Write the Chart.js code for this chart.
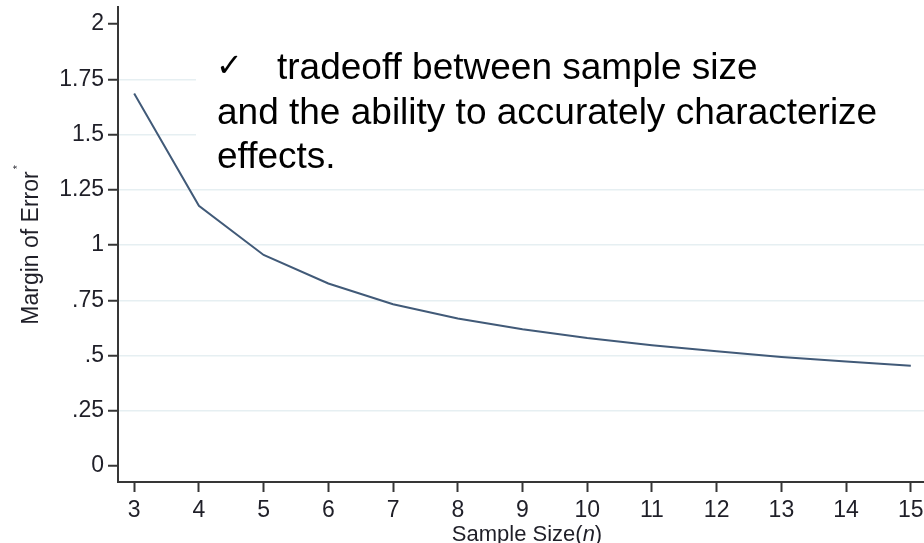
<!DOCTYPE html>
<html>
<head>
<meta charset="utf-8">
<title>Margin of Error by Sample Size</title>
<script src="https://cdn.jsdelivr.net/npm/chart.js@4.4.1/dist/chart.umd.min.js"></script>
<style>
  html, body { margin: 0; padding: 0; background: #fff; overflow: hidden; }
  #wrap { position: relative; width: 960px; height: 543px; }
</style>
</head>
<body>
<div id="wrap"><canvas id="chart"></canvas></div>
<script>
// Sample sizes and the corresponding margin of error
const sampleSizes = [3, 4, 5, 6, 7, 8, 9, 10, 11, 12, 13, 14, 15];
const marginOfError = [1.686, 1.178, 0.955, 0.826, 0.732, 0.668, 0.619, 0.579, 0.547, 0.519, 0.494, 0.473, 0.454];

// Axis ticks
const xTickValues = [3, 4, 5, 6, 7, 8, 9, 10, 11, 12, 13, 14, 15];
const yTickValues = [0, 0.25, 0.5, 0.75, 1, 1.25, 1.5, 1.75, 2];
const yTickLabels = ['0', '.25', '.5', '.75', '1', '1.25', '1.5', '1.75', '2'];

// Annotation lines
const noteLines = ['tradeoff between sample size', 'and the ability to accurately characterize', 'effects.'];

const FONT = '"Liberation Sans", Arial, sans-serif';
const TEXT = '#1f1f28';
const AXIS = '#363636';

const overlay = {
  id: 'overlay',
  beforeDatasetsDraw(chart) {
    // white text panel sitting over the upper gridlines
    const { ctx } = chart;
    ctx.save();
    ctx.fillStyle = '#ffffff';
    ctx.fillRect(196, 0, chart.width - 196, 178);
    ctx.restore();
  },
  afterDraw(chart) {
    const { ctx } = chart;
    ctx.save();
    ctx.fillStyle = '#000';
    ctx.textBaseline = 'alphabetic';
    ctx.textAlign = 'left';

    // check mark bullet
    ctx.font = '32px "DejaVu Sans", sans-serif';
    ctx.fillText('\u2713', 216, 76);

    ctx.font = '37px ' + FONT;
    ctx.fillText(noteLines[0], 277, 79);
    ctx.fillText(noteLines[1], 217, 124);
    ctx.fillText(noteLines[2], 217, 168);

    // y axis title with superscript asterisk
    ctx.fillStyle = TEXT;
    ctx.translate(32, 248);
    ctx.rotate(-Math.PI / 2);
    ctx.font = '23px ' + FONT;
    ctx.textAlign = 'center';
    ctx.textBaseline = 'middle';
    const yTitle = 'Margin of Error';
    ctx.fillText(yTitle, 0, 0);
    const w = ctx.measureText(yTitle).width;
    ctx.font = '11px ' + FONT;
    ctx.textAlign = 'left';
    ctx.fillText('*', w / 2 + 2, -14);
    ctx.setTransform(1, 0, 0, 1, 0, 0);

    // x axis title, italic n
    const parts = [['Sample Size(', 'normal'], ['n', 'italic'], [')', 'normal']];
    let total = 0;
    const widths = parts.map(([t, s]) => {
      ctx.font = s + ' 22px ' + FONT;
      const m = ctx.measureText(t).width;
      total += m;
      return m;
    });
    let x = 527 - total / 2;
    ctx.textAlign = 'left';
    ctx.textBaseline = 'alphabetic';
    parts.forEach(([t, s], i) => {
      ctx.font = s + ' 22px ' + FONT;
      ctx.fillText(t, x, 541);
      x += widths[i];
    });
    ctx.restore();
  }
};

new Chart(document.getElementById('chart'), {
  type: 'line',
  data: {
    datasets: [{
      data: sampleSizes.map((n, i) => ({ x: n, y: marginOfError[i] })),
      borderColor: '#415a78',
      borderWidth: 2,
      pointRadius: 0,
      tension: 0,
      fill: false
    }]
  },
  options: {
    responsive: true,
    maintainAspectRatio: false,
    animation: false,
    layout: { padding: { top: 7, right: 33, bottom: 0, left: 0 } },
    plugins: { legend: { display: false }, tooltip: { enabled: false } },
    scales: {
      x: {
        type: 'linear',
        min: 2.75,
        max: 15.25,
        afterBuildTicks: s => { s.ticks = xTickValues.map(v => ({ value: v })); },
        afterFit: s => { s.height = 61; },
        ticks: {
          autoSkip: false,
          maxRotation: 0,
          padding: 5,
          color: TEXT,
          font: { family: FONT, size: 23 },
          callback: v => String(v)
        },
        grid: {
          drawOnChartArea: false,
          drawTicks: true,
          tickLength: 10,
          tickColor: AXIS,
          tickWidth: 2
        },
        border: { display: true, color: AXIS, width: 2 }
      },
      y: {
        min: -0.072,
        max: 2.077,
        afterBuildTicks: s => { s.ticks = yTickValues.map(v => ({ value: v })); },
        afterFit: s => { s.width = 118; s.paddingTop = 0; s.paddingBottom = 0; },
        ticks: {
          padding: 4,
          color: TEXT,
          font: { family: FONT, size: 23 },
          callback: v => {
            const i = yTickValues.indexOf(v);
            return i >= 0 ? yTickLabels[i] : '';
          }
        },
        grid: {
          drawTicks: true,
          tickLength: 10,
          tickWidth: 2,
          tickColor: AXIS,
          lineWidth: 1.5,
          color: ctx => (ctx.tick && (ctx.tick.value === 0 || ctx.tick.value === 2)) ? 'rgba(0,0,0,0)' : '#e6eff2'
        },
        border: { display: true, color: AXIS, width: 2 }
      }
    }
  },
  plugins: [overlay]
});
</script>
</body>
</html>
